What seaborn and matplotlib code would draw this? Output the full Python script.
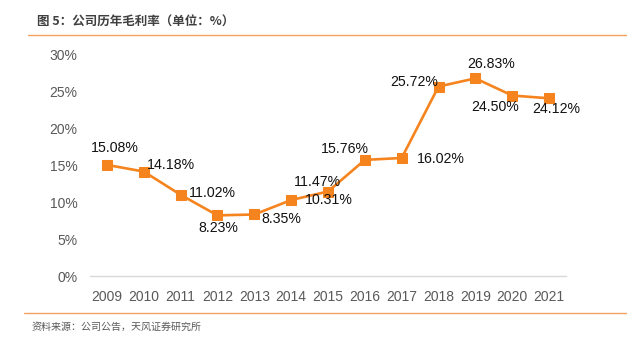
import matplotlib
matplotlib.use("Agg")
import matplotlib.pyplot as plt
import seaborn as sns
import pandas as pd
from matplotlib.lines import Line2D

years = [2009, 2010, 2011, 2012, 2013, 2014, 2015, 2016, 2017, 2018, 2019, 2020, 2021]
margin = [15.08, 14.18, 11.02, 8.23, 8.35, 10.31, 11.47, 15.76, 16.02, 25.72, 26.83, 24.50, 24.12]
labels = ["15.08%", "14.18%", "11.02%", "8.23%", "8.35%", "10.31%", "11.47%",
          "15.76%", "16.02%", "25.72%", "26.83%", "24.50%", "24.12%"]
yticks = [0, 5, 10, 15, 20, 25, 30]
ytick_labels = ["0%", "5%", "10%", "15%", "20%", "25%", "30%"]
title = "图 5：公司历年毛利率（单位：%）"
source = "资料来源：公司公告，天风证券研究所"

sns.set_theme(style="white")
plt.rcParams['font.family'] = ['Liberation Sans', 'Noto Sans CJK SC', 'DejaVu Sans']

df = pd.DataFrame({"year": years, "margin": margin})

fig = plt.figure(figsize=(6.27, 3.40), dpi=100)
ax = fig.add_axes([90/627, 64/340, (566-90)/627, (276-55)/340])

orange = "#F5841F"
sns.lineplot(data=df, x="year", y="margin", ax=ax, color=orange, linewidth=1.9,
             marker="s", markersize=7.5, markeredgecolor=orange, markerfacecolor=orange)

ax.set_xlim(2009 - 0.46, 2021 + 0.46)
ax.set_ylim(0, 30)
ax.set_yticks(yticks)
ax.set_yticklabels(ytick_labels)
ax.set_xticks(years)
ax.set_xticklabels([str(y) for y in years])
ax.set_xlabel("")
ax.set_ylabel("")
for s in ["top", "right", "left"]:
    ax.spines[s].set_visible(False)
ax.spines["bottom"].set_color("#D9D9D9")
ax.spines["bottom"].set_linewidth(1.0)
ax.tick_params(axis="y", length=0, pad=9, labelsize=10, labelcolor="#595959")
ax.tick_params(axis="x", length=0, pad=10, labelsize=10, labelcolor="#595959")
ax.grid(False)

# label offsets in pixels (dx, dy, ha)
offs = [(8, 17, "center"), (3, 7, "left"), (8, 2, "left"), (1, -13, "center"),
        (7, -5, "left"), (14, 0, "left"), (-11, 10, "center"), (-20, 11, "center"),
        (15, -1, "left"), (0, 5, "right"), (16, 14, "center"), (-17, -11, "center"),
        (7, -11, "center")]
k = 72 / 100
for x, y, lab, (dx, dy, ha) in zip(years, margin, labels, offs):
    ax.annotate(lab, (x, y), xytext=(dx * k, dy * k), textcoords="offset points",
                ha=ha, va="center", fontsize=10.2, color="#111111")

# title, rules and source
fig.text(37/627, 1 - 22/340, title, fontsize=9, fontweight="bold", color="#404040",
         va="center", ha="left", family=['Noto Sans CJK SC', 'DejaVu Sans'])
fig.add_artist(Line2D([28/627, 1], [1 - 35/340, 1 - 35/340], color="#F4A261", linewidth=1.0))
fig.add_artist(Line2D([24/627, 1], [1 - 313/340, 1 - 313/340], color="#F4A261", linewidth=1.0))
fig.text(32/627, 1 - 327/340, source, fontsize=7.2, color="#595959",
         va="center", ha="left", family=['Noto Sans CJK SC', 'DejaVu Sans'])

fig.savefig("out.png", dpi=100)
